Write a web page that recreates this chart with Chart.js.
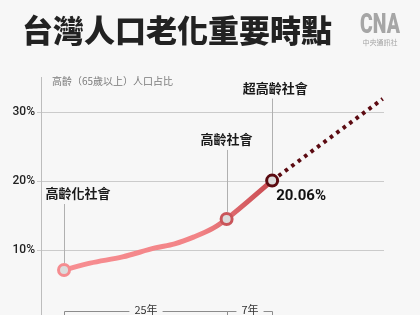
<!DOCTYPE html>
<html>
<head>
<meta charset="utf-8">
<script src="https://cdn.jsdelivr.net/npm/chart.js@4.4.1/dist/chart.umd.min.js"></script>
<style>
    html, body { margin: 0; padding: 0; background: #f7f7f7; overflow: hidden; }
    #wrap { position: relative; width: 420px; height: 315px; }
</style>
</head>
<body>
<div id="wrap"><canvas id="agingChart" width="420" height="315"></canvas></div>
<script>
/* ---------- data ---------- */
const years = [1993, 1997, 2002, 2007, 2010, 2013, 2016, 2018, 2025];
const shares = [7.1, 8.1, 9.0, 10.3, 10.9, 11.9, 13.2, 14.5, 20.06];

const projYears = [2025, 2042];
const projShares = [20.06, 31.9];

const milestoneNames = ["高齡化社會", "高齡社會", "超高齡社會"];
const milestoneYears = [1993, 2018, 2025];
const milestoneShares = [7.1, 14.5, 20.06];

const spanStarts = [1993, 2018];
const spanEnds = [2018, 2025];
const spanLabels = ["25年", "7年"];

const yTicks = [10, 20, 30];

const titleText = "台灣人口老化重要時點";
const subtitleText = "高齡（65歲以上）人口占比";

/* ---------- helpers ---------- */
const toXY = (xs, ys) => xs.map((x, i) => ({ x: x, y: ys[i] }));
const CJK = '"Noto Sans CJK TC", "Noto Sans CJK SC", sans-serif';

function lineGradient(ctx) {
    const chart = ctx.chart;
    if (!chart.chartArea) return "#f28a8c";
    const x0 = chart.scales.x.getPixelForValue(years[0]);
    const x1 = chart.scales.x.getPixelForValue(years[years.length - 1]);
    const g = chart.ctx.createLinearGradient(x0, 0, x1, 0);
    g.addColorStop(0, "#f78e92");
    g.addColorStop(0.65, "#f28386");
    g.addColorStop(0.8, "#de6a6e");
    g.addColorStop(1, "#c94a50");
    return g;
}

/* ---------- texts, leaders, brackets ---------- */
const decorPlugin = {
    id: "decor",
    beforeDraw(chart) {
        const c = chart.ctx;
        c.save();
        c.fillStyle = "#f7f7f7";
        c.fillRect(0, 0, chart.width, chart.height);
        c.restore();
    },
    beforeDatasetsDraw(chart) {
        const c = chart.ctx;
        const xs = chart.scales.x, ys = chart.scales.y;
        const labelRise = [77, 80, 93];
        const labelShift = [14, 0, 3];

        c.save();
        milestoneYears.forEach((yr, i) => {
            const px = xs.getPixelForValue(yr);
            const py = ys.getPixelForValue(milestoneShares[i]);
            const ly = py - labelRise[i];

            c.strokeStyle = "#b0b0b0";
            c.lineWidth = 1;
            c.beginPath();
            c.moveTo(Math.round(px) + 0.5, ly + 11);
            c.lineTo(Math.round(px) + 0.5, py - 7);
            c.stroke();

            c.fillStyle = "#1a1a1a";
            c.font = "bold 13px " + CJK;
            c.textAlign = "center";
            c.textBaseline = "middle";
            c.fillText(milestoneNames[i], px + labelShift[i], ly);
        });
        c.restore();
    },
    afterDraw(chart) {
        const c = chart.ctx;
        const xs = chart.scales.x, ys = chart.scales.y;
        const area = chart.chartArea;

        c.save();
        // title
        c.fillStyle = "#222";
        c.font = "900 31px " + CJK;
        c.textAlign = "left";
        c.textBaseline = "middle";
        c.fillText(titleText, 22, 30);

        // subtitle
        c.fillStyle = "#7a7a7a";
        c.font = "10px " + CJK;
        c.fillText(subtitleText, 52, 81);

        // logo
        c.save();
        c.fillStyle = "#a6a6a6";
        c.translate(380, 26);
        c.scale(0.72, 1);
        c.font = "900 27px Roboto, sans-serif";
        c.textAlign = "center";
        c.fillText("CNA", 0, 0);
        c.restore();
        c.fillStyle = "#a6a6a6";
        c.font = "7px " + CJK;
        c.textAlign = "center";
        c.fillText("中央通訊社", 380, 42);

        // value label on last milestone
        const lx = xs.getPixelForValue(milestoneYears[2]);
        const lyv = ys.getPixelForValue(milestoneShares[2]);
        c.fillStyle = "#111";
        c.font = "bold 15px Roboto, sans-serif";
        c.textAlign = "left";
        c.fillText(milestoneShares[2].toFixed(2) + "%", lx + 4, lyv + 16);

        // span brackets
        const by = Math.round(area.bottom - 4) + 0.5;
        c.strokeStyle = "#8c8c8c";
        c.lineWidth = 1;
        c.font = "11px " + CJK;
        c.fillStyle = "#333";
        c.textAlign = "center";
        spanStarts.forEach((s, i) => {
            const x0 = Math.round(xs.getPixelForValue(s)) + 0.5;
            const x1 = Math.round(xs.getPixelForValue(spanEnds[i])) + 0.5;
            const mid = (x0 + x1) / 2;
            const half = c.measureText(spanLabels[i]).width / 2 + 5;
            c.beginPath();
            c.moveTo(x0, area.bottom + 2);
            c.lineTo(x0, by);
            c.lineTo(mid - half, by);
            c.moveTo(mid + half, by);
            c.lineTo(x1, by);
            c.lineTo(x1, area.bottom + 2);
            c.stroke();
            c.fillText(spanLabels[i], mid, by - 2);
        });
        c.restore();
    }
};

/* ---------- chart ---------- */
const agingChart = new Chart(document.getElementById("agingChart"), {
    type: "line",
    data: {
        datasets: [
            {
                label: "milestones",
                data: toXY(milestoneYears, milestoneShares),
                showLine: false,
                pointRadius: 5.5,
                pointBorderWidth: 3,
                pointBackgroundColor: "#dcdcdc",
                pointBorderColor: ["#f58c90", "#c9555a", "#5a0a10"],
                order: 0
            },
            {
                label: "aging",
                data: toXY(years, shares),
                borderColor: lineGradient,
                borderWidth: 5,
                borderCapStyle: "round",
                cubicInterpolationMode: "monotone",
                pointRadius: 0,
                order: 1
            },
            {
                label: "projection",
                data: toXY(projYears, projShares),
                borderColor: "#5c0b12",
                borderWidth: 4,
                borderDash: [3.5, 4.5],
                borderCapStyle: "butt",
                pointRadius: 0,
                order: 2
            }
        ]
    },
    options: {
        responsive: false,
        animation: false,
        events: [],
        layout: {
            autoPadding: false,
            padding: { top: 77.5, right: 36, bottom: 0, left: 0 }
        },
        plugins: { legend: { display: false }, tooltip: { enabled: false } },
        scales: {
            x: {
                type: "linear",
                min: 1989.46,
                max: 2042.2,
                display: false
            },
            y: {
                min: 0.58,
                max: 35,
                afterFit: s => {
                    s.width = 41;
                    s.paddingTop = 0;
                    s.paddingBottom = 0;
                },
                afterBuildTicks: s => { s.ticks = yTicks.map(v => ({ value: v })); },
                border: { display: true, color: "#bdbdbd", width: 1 },
                grid: { color: "#cbcbcb", lineWidth: 1, tickLength: 4 },
                ticks: {
                    padding: 2,
                    color: "#222",
                    font: { family: "Roboto", size: 12, weight: 500 },
                    callback: v => v + "%"
                }
            }
        }
    },
    plugins: [decorPlugin]
});
</script>
</body>
</html>
